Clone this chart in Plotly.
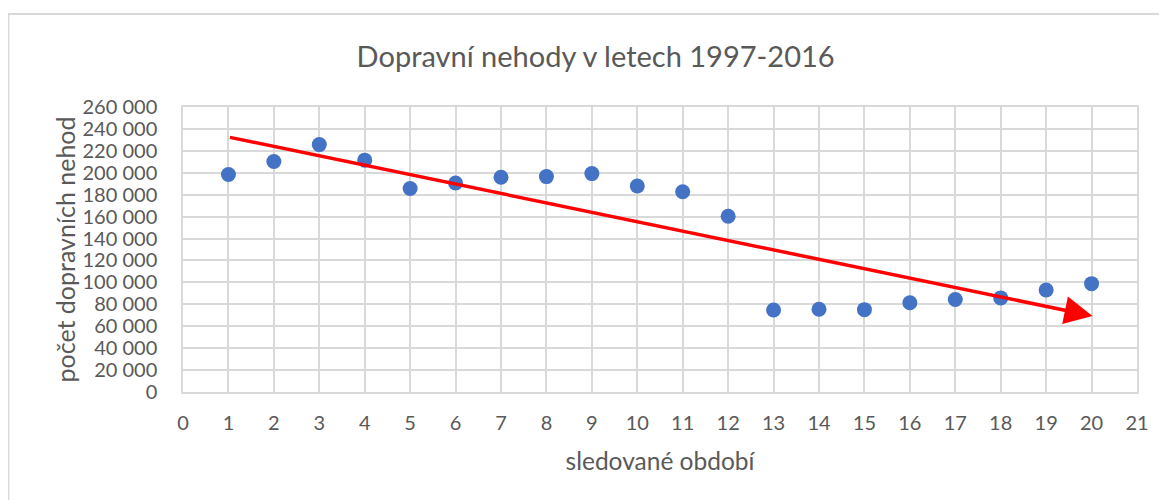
import plotly.graph_objects as go

# Data
periods = list(range(1, 21))
accidents = [198431, 210346, 225690, 211516, 185664, 190718, 195851, 196484, 199262, 187965,
             182736, 160376, 74815, 75522, 75137, 81404, 84398, 85859, 93067, 98864]
x_ticks = list(range(0, 22))
y_ticks = list(range(0, 260001, 20000))
y_ticktext = [f"{v:,}".replace(",", " ") for v in y_ticks]
trend_start = (1, 232600)
trend_end = (20.02, 69400)

FONT = "Lato"
GRAY = "#595959"
GRID = "#d9d9d9"

fig = go.Figure()
fig.add_trace(go.Scatter(
    x=periods, y=accidents, mode="markers",
    marker=dict(color="#4472C4", size=15, line=dict(width=0)),
    showlegend=False, hoverinfo="x+y"))

fig.add_annotation(
    x=trend_end[0], y=trend_end[1], ax=trend_start[0], ay=trend_start[1],
    xref="x", yref="y", axref="x", ayref="y",
    showarrow=True, arrowhead=2, arrowsize=1.6, arrowwidth=3.5, arrowcolor="#ff0000", text="")

# chart outer border
fig.add_shape(type="rect", xref="paper", yref="paper",
              x0=-0.183, x1=1.05, y0=-0.45, y1=1.326,
              line=dict(color=GRID, width=2), fillcolor="rgba(0,0,0,0)", layer="below")

fig.update_layout(
    width=1159, height=492,
    margin=dict(l=175, r=30, t=99, b=108),
    paper_bgcolor="white", plot_bgcolor="white",
    font=dict(family=FONT, color=GRAY),
    title=dict(text="Dopravní nehody v letech 1997-2016", x=0.507, xanchor="center",
               y=0.9, yanchor="middle", font=dict(size=29, color=GRAY, family=FONT)),
    xaxis=dict(range=[0, 21], tickvals=x_ticks, showgrid=True, gridcolor=GRID, gridwidth=1.5,
               showline=True, linecolor=GRID, linewidth=1.5, mirror=True, zeroline=False,
               ticks="", tickfont=dict(size=20, color=GRAY), ticklabelstandoff=12,
               title=dict(text="sledované období", font=dict(size=24.5, color=GRAY), standoff=20)),
    yaxis=dict(range=[0, 260000], tickvals=y_ticks, ticktext=y_ticktext, showgrid=True,
               gridcolor=GRID, gridwidth=1.5, showline=True, linecolor=GRID, linewidth=1.5,
               mirror=True, zeroline=False, ticks="", tickfont=dict(size=20, color=GRAY),
               ticklabelstandoff=20,
               title=dict(text="počet dopravních nehod", font=dict(size=25, color=GRAY), standoff=0)),
)

fig.write_html("out.html")
